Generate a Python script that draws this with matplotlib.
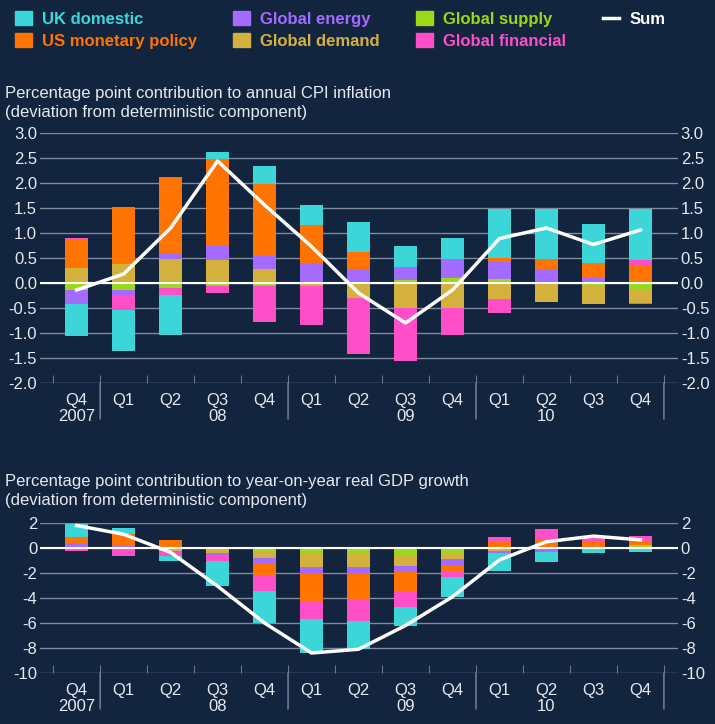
"""
Recreate the inflation / GDP decomposition chart.
"""

import matplotlib.pyplot as plt
import numpy as np
from matplotlib.patches import Patch
from matplotlib.lines import Line2D

BG = "#13243f"
GRID = "#7f8a9c"
TXT = "#e6e9ef"

QUARTERS = ["Q4", "Q1", "Q2", "Q3", "Q4", "Q1", "Q2", "Q3", "Q4", "Q1", "Q2", "Q3", "Q4"]
YEARS = [(0, "2007"), (3, "08"), (7, "09"), (10, "10")]

COMPONENTS = ["Global supply", "Global demand", "Global energy",
              "US monetary policy", "Global financial", "UK domestic"]
COLORS = {
    "UK domestic": "#3dd6d8",
    "US monetary policy": "#ff7300",
    "Global energy": "#a36bff",
    "Global demand": "#d4b03c",
    "Global supply": "#99d91a",
    "Global financial": "#ff4fc8",
}

# CPI inflation contributions (pp)
cpi_uk_domestic = [-0.63, -0.82, -0.80, 0.14, 0.35, 0.40, 0.60, 0.43, 0.41, 0.98, 1.00, 0.77, 1.02]
cpi_us_monetary = [0.58, 1.15, 1.53, 1.72, 1.43, 0.77, 0.34, 0.00, 0.00, 0.06, 0.20, 0.28, 0.36]
cpi_financial = [0.03, -0.28, -0.14, -0.14, -0.72, -0.78, -1.12, -1.05, -0.54, -0.28, 0.00, 0.03, 0.10]
cpi_energy = [-0.29, -0.12, 0.12, 0.30, 0.27, 0.40, 0.28, 0.26, 0.39, 0.37, 0.28, 0.10, -0.03]
cpi_demand = [0.30, 0.38, 0.48, 0.47, 0.29, -0.06, -0.30, -0.50, -0.50, -0.32, -0.38, -0.37, -0.28]
cpi_supply = [-0.13, -0.13, -0.09, -0.05, -0.06, 0.00, 0.00, 0.06, 0.10, 0.08, 0.00, -0.04, -0.11]

# GDP growth contributions (pp)
gdp_uk_domestic = [1.0, 0.5, -0.45, -2.0, -2.6, -2.7, -2.3, -1.5, -1.6, -1.4, -0.8, -0.4, -0.3]
gdp_us_monetary = [0.6, 0.9, 0.65, 0.0, -1.0, -2.1, -2.0, -1.5, -0.5, 0.5, 0.7, 0.5, 0.3]
gdp_financial = [-0.2, -0.6, -0.25, -0.5, -1.2, -1.5, -1.7, -1.3, -0.4, 0.35, 0.8, 0.4, 0.4]
gdp_energy = [0.2, 0.2, -0.1, -0.15, -0.4, -0.6, -0.6, -0.5, -0.5, -0.2, -0.2, 0.0, 0.0]
gdp_demand = [0.1, 0.0, -0.25, -0.3, -0.5, -1.0, -1.0, -0.8, -0.4, -0.2, -0.1, 0.1, 0.05]
gdp_supply = [0.0, 0.0, 0.0, -0.1, -0.3, -0.5, -0.5, -0.6, -0.5, 0.0, 0.05, 0.0, 0.2]
gdp_sum_line = [1.8, 1.1, -0.35, -3.05, -6.0, -8.4, -8.1, -6.2, -3.9, -0.95, 0.5, 0.95, 0.65]

cpi = {"UK domestic": cpi_uk_domestic, "US monetary policy": cpi_us_monetary,
       "Global financial": cpi_financial, "Global energy": cpi_energy,
       "Global demand": cpi_demand, "Global supply": cpi_supply}
gdp = {"UK domestic": gdp_uk_domestic, "US monetary policy": gdp_us_monetary,
       "Global financial": gdp_financial, "Global energy": gdp_energy,
       "Global demand": gdp_demand, "Global supply": gdp_supply}

plt.rcParams["font.family"] = ["Liberation Sans", "DejaVu Sans"]


def draw_panel(ax, data, line, ylim, step, fmt):
    x = np.arange(len(QUARTERS))
    pos = np.zeros(len(x))
    neg = np.zeros(len(x))
    for name in COMPONENTS:
        v = np.array(data[name])
        p = np.where(v > 0, v, 0)
        n = np.where(v < 0, v, 0)
        ax.bar(x, p, 0.5, bottom=pos, color=COLORS[name], zorder=2)
        ax.bar(x, n, 0.5, bottom=neg, color=COLORS[name], zorder=2)
        pos += p
        neg += n
    ax.plot(x, line, color="white", lw=2.5, zorder=3)
    ax.axhline(0, color="white", lw=1.5, zorder=2.5)
    ax.set_facecolor(BG)
    ax.set_xlim(-0.78, 12.8)
    ax.set_ylim(*ylim)
    ticks = np.arange(ylim[0], ylim[1] + step / 2, step)
    ax.set_yticks(ticks)
    ax.set_yticklabels([fmt.format(t) for t in ticks])
    ax.yaxis.grid(True, color=GRID, lw=1, zorder=0)
    for s in ax.spines.values():
        s.set_visible(False)
    ax.tick_params(axis="y", length=0, labelsize=12, colors=TXT,
                   labelleft=True, labelright=True, pad=2)
    ax.set_xticks(x)
    ax.set_xticklabels(QUARTERS)
    ax.tick_params(axis="x", length=0, labelsize=12, colors=TXT, pad=7)
    ax.set_xticks(np.arange(-0.5, 13, 1), minor=True)
    ax.tick_params(axis="x", which="minor", length=6, color=GRID, direction="in")
    for b in [0.5, 4.5, 8.5, 12.5]:
        ax.annotate("", xy=(b, 0), xytext=(b, -26), xycoords=("data", "axes fraction"),
                    textcoords=("data", "offset points"),
                    arrowprops=dict(arrowstyle="-", color=GRID, lw=1,
                                    shrinkA=0, shrinkB=0))
    for i, lab in YEARS:
        ax.annotate(lab, xy=(i, 0), xycoords=("data", "axes fraction"),
                    xytext=(0, -24), textcoords="offset points",
                    ha="center", va="center", color=TXT, fontsize=12)


fig = plt.figure(figsize=(7.15, 7.24), dpi=100, facecolor=BG)
W, H = 715, 724

ax1 = fig.add_axes([40 / W, 1 - 383 / H, 638 / W, 250 / H])
draw_panel(ax1, cpi, np.sum([cpi[k] for k in COMPONENTS], axis=0),
           (-2.0, 3.0), 0.5, "{:.1f}")
ax2 = fig.add_axes([40 / W, 1 - 673 / H, 638 / W, 150 / H])
draw_panel(ax2, gdp, gdp_sum_line, (-10, 2), 2, "{:.0f}")

fig.text(5 / W, 1 - 103 / H,
         "Percentage point contribution to annual CPI inflation\n"
         "(deviation from deterministic component)",
         color=TXT, fontsize=12, va="center", linespacing=1.3)
fig.text(5 / W, 1 - 491 / H,
         "Percentage point contribution to year-on-year real GDP growth\n"
         "(deviation from deterministic component)",
         color=TXT, fontsize=12, va="center", linespacing=1.3)

order = ["UK domestic", "US monetary policy", "Global energy", "Global demand",
         "Global supply", "Global financial"]
handles = [Patch(color=COLORS[n]) for n in order]
handles += [Line2D([], [], color="white", lw=2.5), Patch(color=BG)]
labels = order + ["Sum", ""]
leg = fig.legend(handles, labels, ncol=4, loc="upper left",
                 bbox_to_anchor=(0, 1.005), frameon=False, fontsize=12,
                 handlelength=1.0, handleheight=0.9, columnspacing=2.2,
                 labelspacing=0.35, handletextpad=0.6)
for t, n in zip(leg.get_texts(), labels):
    t.set_color(COLORS.get(n, "white"))
    t.set_fontweight("bold")

fig.savefig("out.png", dpi=100, facecolor=BG)
